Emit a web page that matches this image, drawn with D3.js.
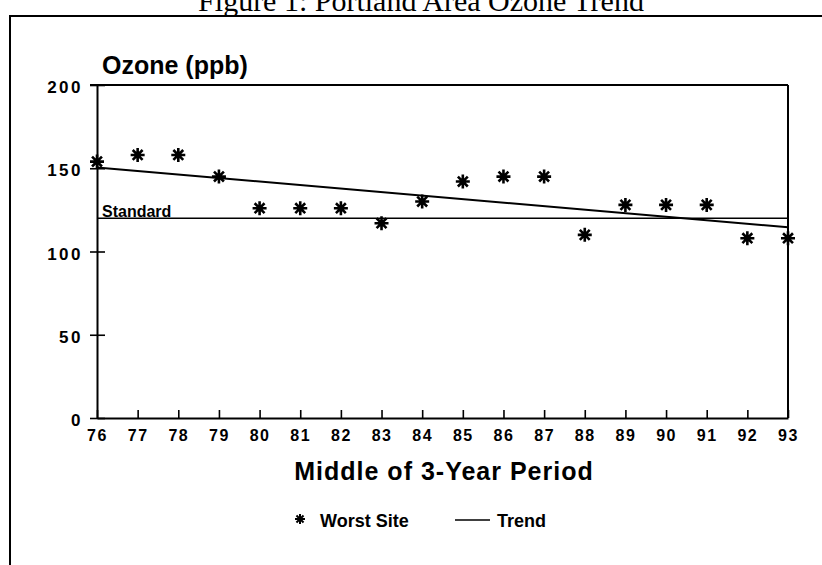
<!DOCTYPE html>
<html>
<head>
<meta charset="utf-8">
<script src="https://cdn.jsdelivr.net/npm/d3@7"></script>
<style>
  body { margin: 0; background: #fff; }
  svg { display: block; }
  .lbl { font-family: "Liberation Sans", Arial, sans-serif; font-weight: bold; fill: #000; }
</style>
</head>
<body>
<div id="chart"></div>
<script>
// Portland area ozone trend

var years = [76, 77, 78, 79, 80, 81, 82, 83, 84, 85, 86, 87, 88, 89, 90, 91, 92, 93];
var worstSite = [154, 158, 158, 145, 126, 126, 126, 117, 130, 142, 145, 145, 110, 128, 128, 128, 108, 108];
var trendYears = [76, 93];
var trendValues = [150.5, 114.5];
var standardValue = 120;
var yTicks = [0, 50, 100, 150, 200];

var svgWidth = 822;
var svgHeight = 565;

var margin = { top: 85, right: 34, bottom: 147, left: 97 };
var width = svgWidth - margin.left - margin.right;
var height = svgHeight - margin.top - margin.bottom;

var svg = d3.select("#chart")
    .append("svg")
    .attr("width", svgWidth)
    .attr("height", svgHeight);

// page title, cut off at the top edge like the scan
svg.append("text")
    .attr("x", 421)
    .attr("y", 11)
    .attr("text-anchor", "middle")
    .style("font-family", "'Liberation Serif', 'Times New Roman', serif")
    .style("font-size", "30px")
    .text("Figure 1: Portland Area Ozone Trend");

// figure frame (left and top edges)
svg.append("path")
    .attr("d", "M10,565V16H822")
    .attr("fill", "none")
    .attr("stroke", "#000")
    .attr("stroke-width", 2);

var chartGroup = svg.append("g")
    .attr("transform", `translate(${margin.left}, ${margin.top})`);

var xScale = d3.scaleLinear().domain([76, 93]).range([0, width]);
var yScale = d3.scaleLinear().domain([0, 200]).range([height, 0]);

// plot box
chartGroup.append("line")
    .attr("x1", -7).attr("x2", width)
    .attr("y1", 0).attr("y2", 0)
    .attr("stroke", "#000").attr("stroke-width", 2);
chartGroup.append("line")
    .attr("x1", width).attr("x2", width)
    .attr("y1", 0).attr("y2", height)
    .attr("stroke", "#000").attr("stroke-width", 2);

// y axis, ticks crossing the axis line
var leftAxis = d3.axisLeft(yScale).tickValues(yTicks).tickSizeOuter(0);
var yAxis = chartGroup.append("g").call(leftAxis);
yAxis.select(".domain").attr("stroke-width", 2);
yAxis.selectAll(".tick line")
    .attr("x1", 8).attr("x2", -7)
    .attr("stroke-width", 1.6);
yAxis.selectAll(".tick text")
    .attr("class", "lbl")
    .attr("x", -14)
    .attr("dy", "0.45em")
    .style("font-size", "17px")
    .style("letter-spacing", "2.5px");

// x axis, ticks pointing up into the plot
var bottomAxis = d3.axisBottom(xScale)
    .tickValues(years)
    .tickFormat(d3.format("d"))
    .tickSizeInner(-8)
    .tickSizeOuter(0);
var xAxis = chartGroup.append("g")
    .attr("transform", `translate(0, ${height})`)
    .call(bottomAxis);
xAxis.select(".domain").attr("stroke-width", 2);
xAxis.selectAll(".tick line").attr("stroke-width", 1.6);
xAxis.selectAll(".tick text")
    .attr("class", "lbl")
    .attr("y", 23)
    .attr("dy", 0)
    .style("font-size", "16px")
    .style("letter-spacing", "1.5px");
svg.selectAll(".tick text").attr("fill", "#000");

// standard line
chartGroup.append("line")
    .attr("x1", xScale(76)).attr("x2", xScale(93))
    .attr("y1", yScale(standardValue)).attr("y2", yScale(standardValue))
    .attr("stroke", "#000").attr("stroke-width", 1.6);
chartGroup.append("text")
    .attr("class", "lbl")
    .attr("x", xScale(76) + 5)
    .attr("y", yScale(standardValue) - 1)
    .style("font-size", "16px")
    .text("Standard");

// trend line
var trendLine = d3.line()
    .x(d => xScale(d[0]))
    .y(d => yScale(d[1]));
chartGroup.append("path")
    .datum(d3.zip(trendYears, trendValues))
    .attr("d", trendLine)
    .attr("fill", "none")
    .attr("stroke", "#000")
    .attr("stroke-width", 2);

// asterisk marker
function starPath(r) {
    var p = d3.path();
    for (var i = 0; i < 4; i++) {
        var a = i * Math.PI / 4;
        p.moveTo(-r * Math.cos(a), -r * Math.sin(a));
        p.lineTo(r * Math.cos(a), r * Math.sin(a));
    }
    return p.toString();
}

chartGroup.selectAll(".star")
    .data(d3.zip(years, worstSite))
    .enter()
    .append("path")
    .attr("class", "star")
    .attr("transform", d => `translate(${xScale(d[0])}, ${yScale(d[1])})`)
    .attr("d", starPath(7))
    .attr("fill", "none")
    .attr("stroke", "#000")
    .attr("stroke-width", 2.6);

// axis titles
svg.append("text")
    .attr("class", "lbl")
    .attr("x", 102)
    .attr("y", 74)
    .style("font-size", "25px")
    .text("Ozone (ppb)");

svg.append("text")
    .attr("class", "lbl")
    .attr("x", 444)
    .attr("y", 480)
    .attr("text-anchor", "middle")
    .style("font-size", "25px")
    .style("letter-spacing", "1px")
    .text("Middle of 3-Year Period");

// legend
var legend = svg.append("g").attr("transform", "translate(0, 527)");
legend.append("path")
    .attr("transform", "translate(300, -8)")
    .attr("d", starPath(5))
    .attr("fill", "none")
    .attr("stroke", "#000")
    .attr("stroke-width", 2);
legend.append("text")
    .attr("class", "lbl")
    .attr("x", 320)
    .attr("y", 0)
    .style("font-size", "18px")
    .text("Worst Site");
legend.append("line")
    .attr("x1", 455).attr("x2", 490)
    .attr("y1", -7).attr("y2", -7)
    .attr("stroke", "#000").attr("stroke-width", 1.6);
legend.append("text")
    .attr("class", "lbl")
    .attr("x", 497)
    .attr("y", 0)
    .style("font-size", "18px")
    .text("Trend");
</script>
</body>
</html>
